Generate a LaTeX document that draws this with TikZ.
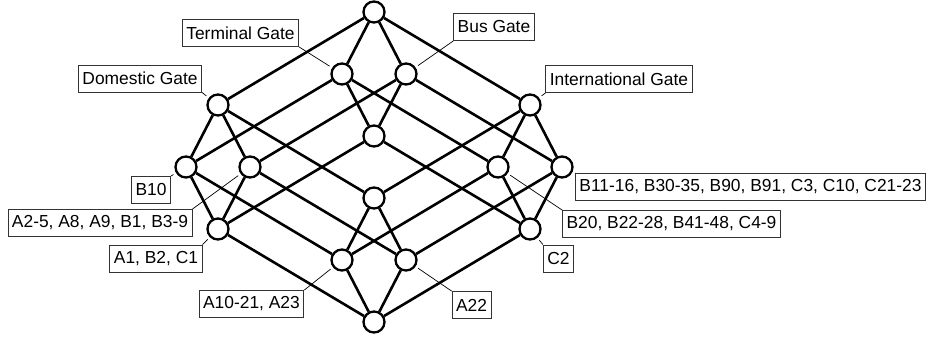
\documentclass[tikz,border=0pt]{standalone}
\usepackage{fontspec}
\setmainfont{Liberation Sans}
\begin{document}
\begin{tikzpicture}[x=1pt,y=-1pt,
  v/.style={circle,draw,line width=2.3pt,fill=white,minimum size=21pt,inner sep=0pt},
  e/.style={line width=2.6pt},
  lab/.style={draw=black!80,line width=0.9pt,fill=white,font=\fontsize{17.4}{20}\selectfont,inner xsep=4pt,inner ysep=0pt,minimum height=27pt},
  lead/.style={line width=0.7pt,shorten >=3pt}]
\useasboundingbox (0,0) rectangle (926,342);
% lattice nodes
\node[v] (T)    at (374,12) {};
\node[v] (A)    at (342,74) {};
\node[v] (B)    at (406,74) {};
\node[v] (C)    at (218,105) {};
\node[v] (D)    at (530,105) {};
\node[v] (AB)   at (374,136) {};
\node[v] (AC)   at (186,167) {};
\node[v] (BC)   at (250,167) {};
\node[v] (AD)   at (498,167) {};
\node[v] (BD)   at (562,167) {};
\node[v] (CD)   at (374,198) {};
\node[v] (ABC)  at (218,229) {};
\node[v] (ABD)  at (530,229) {};
\node[v] (ACD)  at (342,260) {};
\node[v] (BCD)  at (406,260) {};
\node[v] (ABCD) at (374,322) {};
% edges
\foreach \p/\q in {T/A,T/B,T/C,T/D,
  A/AB,A/AC,A/AD, B/AB,B/BC,B/BD, C/AC,C/BC,C/CD, D/AD,D/BD,D/CD,
  AB/ABC,AB/ABD, AC/ABC,AC/ACD, AD/ABD,AD/ACD, BC/ABC,BC/BCD, BD/ABD,BD/BCD, CD/ACD,CD/BCD,
  ABC/ABCD,ABD/ABCD,ACD/ABCD,BCD/ABCD}
  \draw[e] (\p) -- (\q);
% labels
\node[lab] (lTG)  at (240.5,33) {Terminal Gate};
\node[lab] (lBG)  at (494,27) {Bus Gate};
\node[lab] (lDG)  at (140,78.5) {Domestic Gate};
\node[lab] (lIG)  at (619,79) {International Gate};
\node[lab] (lB10) at (151,190) {B10};
\node[lab] (lA2)  at (100,223) {A2-5, A8, A9, B1, B3-9};
\node[lab] (lA1)  at (156,258.5) {A1, B2, C1};
\node[lab] (lA10) at (251.5,304) {A10-21, A23};
\node[lab] (lA22) at (471.5,305) {A22};
\node[lab] (lB11) at (750.5,187) {B11-16, B30-35, B90, B91, C3, C10, C21-23};
\node[lab] (lB20) at (671.5,224) {B20, B22-28, B41-48, C4-9};
\node[lab] (lC2)  at (558.5,258.5) {C2};
% leaders
\draw[lead] (lTG.south east) -- (A);
\draw[lead] (lBG.south west) -- (B);
\draw[lead] (lDG.south east) -- (C);
\draw[lead] (lIG.south west) -- (D);
\draw[lead] (lB10.north east) -- (AC);
\draw[lead] (lA2.north east) -- (BC);
\draw[lead] (lA1.north east) -- (ABC);
\draw[lead] (lA10.north east) -- (ACD);
\draw[lead] (lA22.north west) -- (BCD);
\draw[lead] (lB11.north west) -- (BD);
\draw[lead] (lB20.north west) -- (AD);
\draw[lead] (lC2.north west) -- (ABD);
\end{tikzpicture}
\end{document}
